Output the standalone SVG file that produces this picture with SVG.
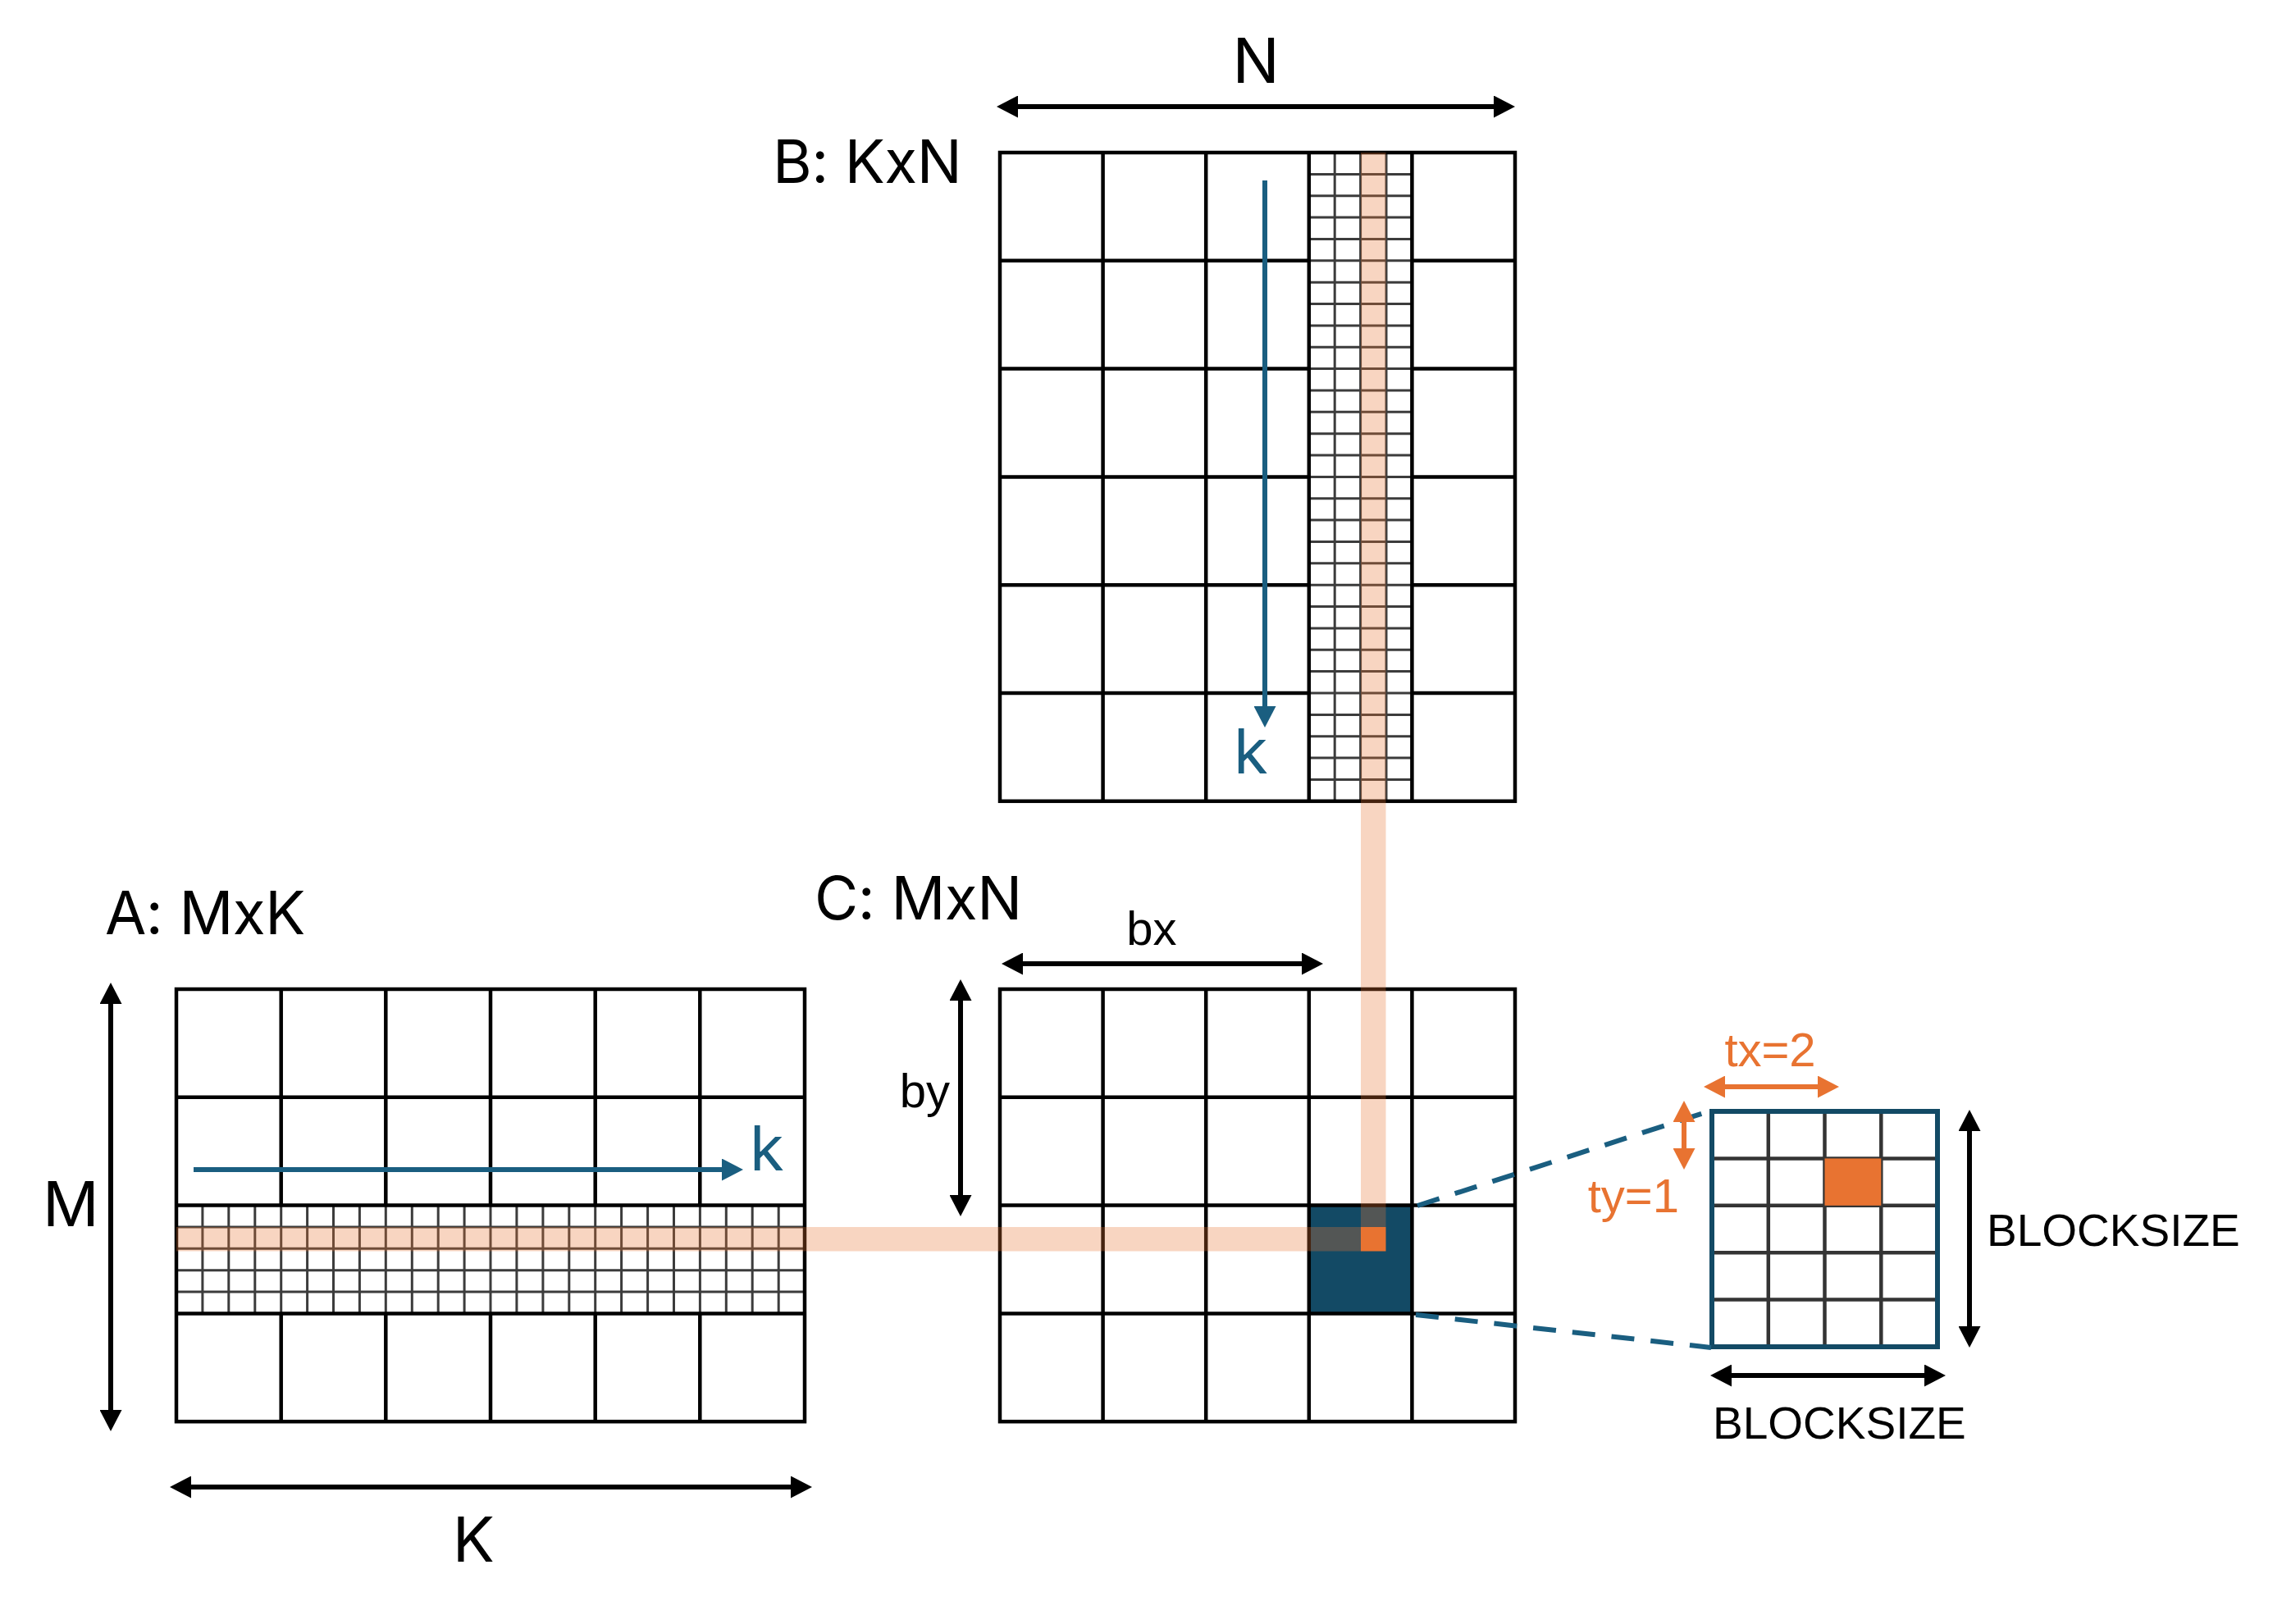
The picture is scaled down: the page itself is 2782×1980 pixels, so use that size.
<svg xmlns="http://www.w3.org/2000/svg" width="2782" height="1980" viewBox="0 0 2782 1980">
<style>
.grid{fill:none;stroke:#000;stroke-width:4.5}
.fine{fill:none;stroke:#1a1a1a;stroke-width:3;stroke-opacity:0.85}
.band{fill:#E87331;fill-opacity:0.3}
.dim{stroke:#000;stroke-width:6;fill:none}
.odim{stroke:#E87331;stroke-width:6;fill:none}
.bdim{stroke:#1A5E80;stroke-width:6;fill:none}
.lbl{font-family:Inter,"Noto Sans","Liberation Sans",sans-serif;font-size:73px;fill:#000;font-feature-settings:"calt" 0;letter-spacing:-0.5px}
.big{font-size:76px}
.sm{font-family:"Liberation Sans",Arial,sans-serif;font-size:58px;fill:#000}
.bs{font-size:55px}
.olbl{font-family:"Liberation Sans",Arial,sans-serif;font-size:58px;fill:#E87331}
.blbl{font-family:Inter,"Noto Sans",sans-serif;font-size:76px;fill:#1A5E80}
.dash{stroke:#1A5E80;stroke-width:6;stroke-dasharray:28 20;fill:none}
</style>
<defs>
<marker id="ahK" viewBox="0 0 26 27" refX="6" refY="13.5" markerWidth="26" markerHeight="27" markerUnits="userSpaceOnUse" orient="auto-start-reverse"><path d="M0 0L26 13.5L0 27z" fill="#000"/></marker>
<marker id="ahO" viewBox="0 0 26 27" refX="6" refY="13.5" markerWidth="26" markerHeight="27" markerUnits="userSpaceOnUse" orient="auto-start-reverse"><path d="M0 0L26 13.5L0 27z" fill="#E87331"/></marker>
<marker id="ahB" viewBox="0 0 26 27" refX="6" refY="13.5" markerWidth="26" markerHeight="27" markerUnits="userSpaceOnUse" orient="auto-start-reverse"><path d="M0 0L26 13.5L0 27z" fill="#1A5E80"/></marker>
</defs>
<rect width="2782" height="1980" fill="#fff"/>

<g id="matrix-B">
<path class="fine" d="M1627.2 186V976.8M1658.6 186V976.8M1690 186V976.8M1596 212.4H1721M1596 238.7H1721M1596 265.1H1721M1596 291.4H1721M1596 317.8H1721M1596 344.2H1721M1596 370.5H1721M1596 396.9H1721M1596 423.2H1721M1596 449.6H1721M1596 476H1721M1596 502.3H1721M1596 528.7H1721M1596 555H1721M1596 581.4H1721M1596 607.8H1721M1596 634.1H1721M1596 660.5H1721M1596 686.8H1721M1596 713.2H1721M1596 739.6H1721M1596 765.9H1721M1596 792.3H1721M1596 818.6H1721M1596 845H1721M1596 871.4H1721M1596 897.7H1721M1596 924.1H1721M1596 950.4H1721"/>
<rect class="grid" x="1219" y="186" width="628" height="790.8"/>
<path class="grid" d="M1344.6 186V976.8M1470.2 186V976.8M1595.8 186V976.8M1721.4 186V976.8M1219 317.8H1595.8M1219 449.6H1595.8M1219 581.4H1595.8M1219 713.2H1595.8M1219 845H1595.8M1721.4 317.8H1847M1721.4 449.6H1847M1721.4 581.4H1847M1721.4 713.2H1847M1721.4 845H1847"/>
<text class="lbl" x="942" y="223">B: KxN</text>
</g>

<g id="matrix-A">
<path class="fine" d="M215 1496H981M215 1522.3H981M215 1548.7H981M215 1575H981M246.9 1469.6V1601.4M278.8 1469.6V1601.4M310.8 1469.6V1601.4M342.7 1469.6V1601.4M374.6 1469.6V1601.4M406.5 1469.6V1601.4M438.4 1469.6V1601.4M470.3 1469.6V1601.4M502.3 1469.6V1601.4M534.2 1469.6V1601.4M566.1 1469.6V1601.4M598 1469.6V1601.4M629.9 1469.6V1601.4M661.9 1469.6V1601.4M693.8 1469.6V1601.4M725.7 1469.6V1601.4M757.6 1469.6V1601.4M789.6 1469.6V1601.4M821.5 1469.6V1601.4M853.4 1469.6V1601.4M885.3 1469.6V1601.4M917.2 1469.6V1601.4M949.2 1469.6V1601.4"/>
<rect class="grid" x="215" y="1206" width="766" height="527.2"/>
<path class="grid" d="M215 1337.8H981M215 1469.6H981M215 1601.4H981M342.7 1206V1469.6M470.3 1206V1469.6M598 1206V1469.6M725.7 1206V1469.6M853.3 1206V1469.6M342.7 1601.4V1733.2M470.3 1601.4V1733.2M598 1601.4V1733.2M725.7 1601.4V1733.2M853.3 1601.4V1733.2"/>
<text class="lbl" x="128" y="1139">A: MxK</text>
</g>

<g id="matrix-C">
<rect x="1595.8" y="1469.6" width="125.6" height="131.8" fill="#134A65"/>
<rect class="grid" x="1219" y="1206" width="628" height="527.2"/>
<path class="grid" d="M1344.6 1206V1733.2M1470.2 1206V1733.2M1595.8 1206V1733.2M1721.4 1206V1733.2M1219 1337.8H1847M1219 1469.6H1847M1219 1601.4H1847"/>
<text class="lbl" x="993" y="1121">C: MxN</text>
</g>

<g id="highlight">
<rect class="band" x="215" y="1496" width="1444" height="29.5"/>
<rect class="band" x="1659" y="186" width="30.5" height="1310"/>
<rect x="1659" y="1496" width="30.5" height="29.5" fill="#E87331"/>
</g>

<g id="block-inset">
<rect x="2087" y="1355" width="275" height="287" fill="#fff"/>
<path d="M2155.8 1355V1642M2224.5 1355V1642M2293.3 1355V1642M2087 1412.4H2362M2087 1469.8H2362M2087 1527.2H2362M2087 1584.6H2362" fill="none" stroke="#111" stroke-width="4.5" stroke-opacity="0.85"/>
<rect x="2224.5" y="1412.4" width="68.8" height="57.4" fill="#E87331"/>
<rect x="2087" y="1355" width="275" height="287" fill="none" stroke="#134A65" stroke-width="6"/>
</g>

<g id="connectors">
<path class="dash" d="M1728 1470L2086 1354"/>
<path class="dash" d="M1726 1603L2086 1643"/>
<path class="bdim" d="M1542 220V867" marker-end="url(#ahB)"/>
<path class="bdim" d="M236 1426H886" marker-end="url(#ahB)"/>
<path class="dim" d="M1235 130H1827" marker-start="url(#ahK)" marker-end="url(#ahK)"/>
<path class="dim" d="M1241 1175H1593" marker-start="url(#ahK)" marker-end="url(#ahK)"/>
<path class="dim" d="M1171 1214V1463" marker-start="url(#ahK)" marker-end="url(#ahK)"/>
<path class="dim" d="M135 1218V1725" marker-start="url(#ahK)" marker-end="url(#ahK)"/>
<path class="dim" d="M227 1813H970" marker-start="url(#ahK)" marker-end="url(#ahK)"/>
<path class="dim" d="M2401 1373V1623" marker-start="url(#ahK)" marker-end="url(#ahK)"/>
<path class="dim" d="M2105 1677H2352" marker-start="url(#ahK)" marker-end="url(#ahK)"/>
<path class="odim" d="M2097 1325H2222" marker-start="url(#ahO)" marker-end="url(#ahO)"/>
<path class="odim" d="M2053 1362V1406" marker-start="url(#ahO)" marker-end="url(#ahO)"/>
</g>

<g id="labels">
<text class="lbl big" x="1531" y="101" text-anchor="middle">N</text>
<text class="lbl big" x="577" y="1904" text-anchor="middle">K</text>
<text class="lbl big" x="52" y="1495">M</text>
<text class="blbl" x="1504" y="943">k</text>
<text class="blbl" x="914" y="1427">k</text>
<text class="sm" x="1404" y="1152" text-anchor="middle">bx</text>
<text class="sm" x="1158" y="1350" text-anchor="end">by</text>
<text class="olbl" x="2158" y="1300" text-anchor="middle">tx=2</text>
<text class="olbl" x="2047" y="1478" text-anchor="end">ty=1</text>
<text class="sm bs" x="2422" y="1519">BLOCKSIZE</text>
<text class="sm bs" x="2088" y="1754">BLOCKSIZE</text>
</g>
</svg>
